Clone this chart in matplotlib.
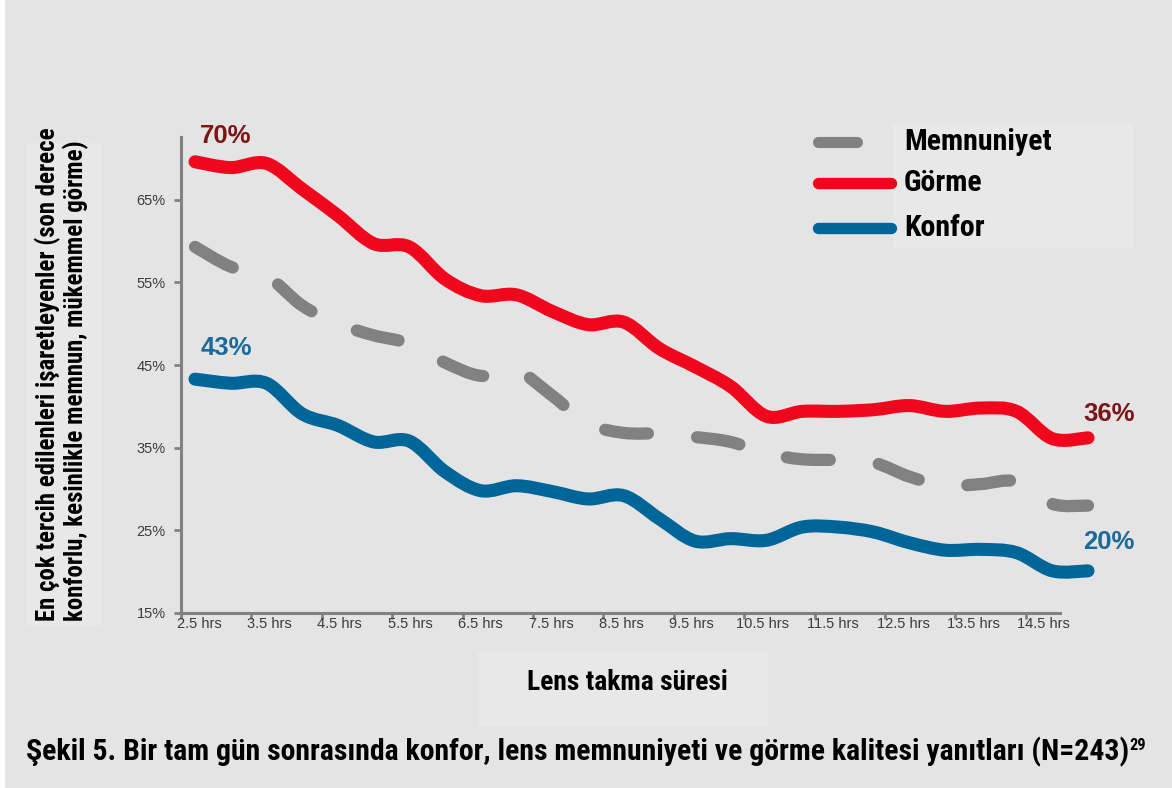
import numpy as np
import matplotlib
matplotlib.use("Agg")
import matplotlib.pyplot as plt
import matplotlib.font_manager as fm
from matplotlib.font_manager import FontProperties
from matplotlib.path import Path
from matplotlib.patches import PathPatch, Rectangle
from matplotlib.lines import Line2D

# Veriler (yarım saat aralıklarla, 2.5 - 15 saat)
hours = [2.5 + 0.5 * i for i in range(26)]
gorme = [69.6, 68.9, 69.4, 66.3, 63.1, 59.7, 59.3, 55.4, 53.4, 53.5, 51.5, 49.9, 50.2,
         47.0, 44.8, 42.4, 38.8, 39.4, 39.4, 39.6, 40.1, 39.4, 39.8, 39.4, 36.1, 36.2]
memnuniyet = [59.3, 56.9, 55.8, 52.2, 50.0, 48.6, 47.6, 45.3, 43.7, 44.3, 41.3, 37.9, 36.8,
              36.7, 36.3, 35.7, 34.3, 33.6, 33.5, 33.2, 31.5, 30.4, 30.6, 30.9, 28.2, 28.0]
konfor = [43.3, 42.8, 42.8, 39.1, 37.7, 35.7, 35.8, 32.1, 29.8, 30.4, 29.7, 28.8, 29.2,
          26.4, 23.7, 24.0, 23.8, 25.4, 25.4, 24.8, 23.5, 22.6, 22.7, 22.3, 20.1, 20.1]
xtick_labels = ["2.5 hrs", "3.5 hrs", "4.5 hrs", "5.5 hrs", "6.5 hrs", "7.5 hrs", "8.5 hrs",
                "9.5 hrs", "10.5 hrs", "11.5 hrs", "12.5 hrs", "13.5 hrs", "14.5 hrs"]
yticks = [15, 25, 35, 45, 55, 65]

BG = "#e4e4e4"
LIGHT = "#e8e8e9"
RED = "#f0071e"
BLUE = "#00669a"
GRAY = "#818181"
W, H = 1172, 788


def pick_narrow():
    # dar (condensed) kalın bir yazı tipi ara
    prefs = ["Liberation Sans Narrow", "Roboto Condensed", "Noto Sans", "DejaVu Sans",
             "Open Sans", "Roboto", "Inter", "Lato"]
    for fam in prefs:
        for f in fm.fontManager.ttflist:
            narrow = ("Narrow" in f.name or "Condensed" in f.name or
                      str(f.stretch) in ("condensed", "semi-condensed", "extra-condensed"))
            if f.name == fam and str(f.weight) in ("700", "bold") and narrow and f.style == "normal":
                return FontProperties(fname=f.fname)
    return FontProperties(family="Liberation Sans", weight="bold")


NARROW = pick_narrow()


def fx(x):
    return x / W


def fy(y):
    return 1 - y / H


def smooth_path(x, y):
    # Excel benzeri yumuşatılmış çizgi (Catmull-Rom -> Bezier)
    p = np.column_stack([x, y]).astype(float)
    verts = [p[0]]
    codes = [Path.MOVETO]
    n = len(p)
    for i in range(n - 1):
        p0 = p[max(i - 1, 0)]
        p1, p2 = p[i], p[i + 1]
        p3 = p[min(i + 2, n - 1)]
        verts += [p1 + (p2 - p0) / 6, p2 - (p3 - p1) / 6, p2]
        codes += [Path.CURVE4] * 3
    return Path(verts, codes)


plt.rcParams["lines.scale_dashes"] = False
fig = plt.figure(figsize=(W / 100, H / 100), dpi=100, facecolor=BG)
renderer = fig.canvas.get_renderer()


def fit(texts, target, vertical=False):
    # ilk metnin genişliğini hedef piksel genişliğine ayarla
    ext = texts[0].get_window_extent(renderer=renderer)
    size = ext.height if vertical else ext.width
    new = texts[0].get_fontsize() * target / size
    for t in texts:
        t.set_fontsize(new)


# açık renkli kutular
fig.add_artist(Rectangle((0, 0), fx(4), 1, transform=fig.transFigure, color="white", zorder=0))
fig.add_artist(Rectangle((fx(27), fy(625)), fx(73), (625 - 143) / H, transform=fig.transFigure,
                         color=LIGHT, zorder=0))
fig.add_artist(Rectangle((fx(893), fy(247)), fx(239), (247 - 123) / H, transform=fig.transFigure,
                         color=LIGHT, zorder=0))
fig.add_artist(Rectangle((fx(478), fy(725)), fx(289), (725 - 652) / H, transform=fig.transFigure,
                         color=LIGHT, zorder=0))

ax = fig.add_axes([fx(181), fy(613), fx(1100 - 181), (613 - 137) / H])
ax.set_facecolor("none")
x0 = 2.5 + (181 - 195) / 71.44
ax.set_xlim(x0, 2.5 + (1100 - 195) / 71.44)
ax.set_ylim(15, 72.6)

for vals, col, dashed in [(memnuniyet, GRAY, True), (gorme, RED, False), (konfor, BLUE, False)]:
    patch = PathPatch(smooth_path(hours, vals), fill=False, edgecolor=col, lw=9.4,
                      capstyle="round", joinstyle="round", zorder=3)
    if dashed:
        patch.set_linewidth(8.8)
        patch.set_linestyle((0, (31, 35.5)))
    ax.add_patch(patch)

# eksenler
for s in ["top", "right"]:
    ax.spines[s].set_visible(False)
for s in ["left", "bottom"]:
    ax.spines[s].set_color(GRAY)
    ax.spines[s].set_linewidth(2.2)
ax.spines["bottom"].set_bounds(x0, 2.5 + (1060 - 195) / 71.44)

step = 70.4 / 71.44
ax.set_xticks([x0 + k * step for k in range(len(xtick_labels))])
ax.set_xticklabels([])
ax.set_xticks([x0 + k * step + 0.252 for k in range(len(xtick_labels))], minor=True)
ax.set_xticklabels(xtick_labels, minor=True)
ax.tick_params(axis="x", which="major", length=4, width=2, color=GRAY)
ax.tick_params(axis="x", which="minor", length=0, pad=3, labelsize=10.5, labelcolor="#3c3c3c")
ax.set_yticks(yticks)
ax.set_yticklabels([f"{v}%" for v in yticks])
ax.tick_params(axis="y", length=5, width=2, color=GRAY, pad=6, labelsize=10.5, labelcolor="#3c3c3c")
for lab in ax.get_xticklabels(minor=True) + ax.get_yticklabels():
    lab.set_family("Liberation Sans")

# veri etiketleri
lbl = dict(textcoords="offset pixels", ha="center", va="center", fontsize=18.5,
           fontweight="bold", family="Liberation Sans")
ax.annotate("70%", (hours[0], gorme[0]), xytext=(31, 26), color="#7d1416", **lbl)
ax.annotate("43%", (hours[0], konfor[0]), xytext=(31, 31), color="#1b6a9b", **lbl)
ax.annotate("36%", (hours[-1], gorme[-1]), xytext=(21, 24), color="#7d1416", **lbl)
ax.annotate("20%", (hours[-1], konfor[-1]), xytext=(21, 29), color="#1b6a9b", **lbl)

# lejant
leg = [("Memnuniyet", GRAY, 859, 142, 8.0), ("Görme", RED, 893, 183, 8.2), ("Konfor", BLUE, 893, 228, 8.2)]
leg_texts = []
for name, col, xend, yy, lw in leg:
    fig.add_artist(Line2D([fx(818), fx(xend - 2)], [fy(yy), fy(yy)], transform=fig.transFigure,
                          color=col, lw=lw, solid_capstyle="round"))
    leg_texts.append(fig.text(fx(904), fy(yy), name, ha="left", va="center", fontsize=20,
                              fontproperties=NARROW, color="black"))
fit(leg_texts, 147)

# eksen başlıkları
ylab = fig.text(fx(62), fy(621), "En çok tercih edilenleri işaretleyenler (son derece\n"
                "konforlu, kesinlikle memnun, mükemmel görme)", rotation=90, ha="center",
                va="bottom", multialignment="left", fontproperties=NARROW, fontsize=15,
                linespacing=1.1)
fit([ylab], 493, vertical=True)
xlab = fig.text(fx(627), fy(683), "Lens takma süresi", ha="center", va="center",
                fontproperties=NARROW, fontsize=20)
fit([xlab], 200)

cap = fig.text(fx(26), fy(752), "Şekil 5. Bir tam gün sonrasında konfor, lens memnuniyeti ve "
               "görme kalitesi yanıtları (N=243)", ha="left", va="center",
               fontproperties=NARROW, fontsize=20)
fit([cap], 1104)
sup = ax.annotate("29", xy=(1, 1), xycoords=cap, xytext=(0, -1), textcoords="offset pixels",
                  ha="left", va="top", fontproperties=NARROW, fontsize=cap.get_fontsize() * 0.55,
                  annotation_clip=False)

fig.savefig("out.png", dpi=100, facecolor=BG)
